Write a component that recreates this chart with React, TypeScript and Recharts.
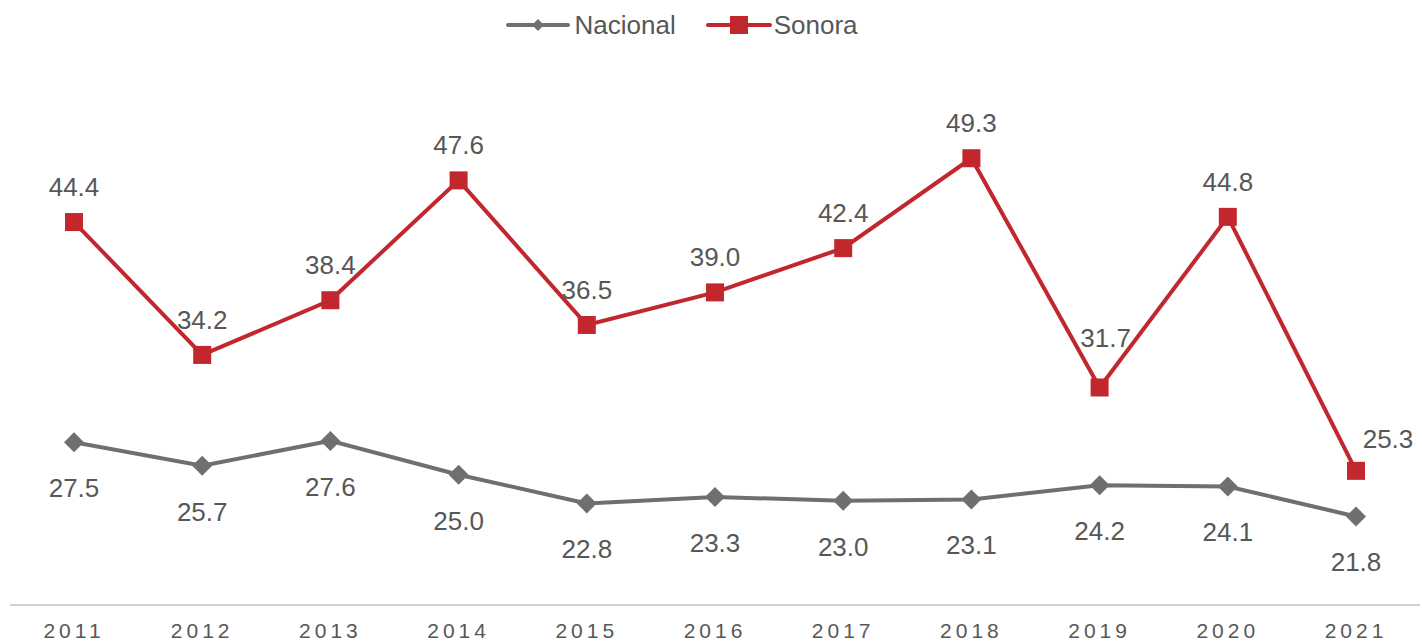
import { LineChart, Line, XAxis, YAxis, Legend } from 'recharts';

const years = ['2011', '2012', '2013', '2014', '2015', '2016', '2017', '2018', '2019', '2020', '2021'];
const nacional = [27.5, 25.7, 27.6, 25.0, 22.8, 23.3, 23.0, 23.1, 24.2, 24.1, 21.8];
const sonora = [44.4, 34.2, 38.4, 47.6, 36.5, 39.0, 42.4, 49.3, 31.7, 44.8, 25.3];

const GRAY = '#6d6f71';
const RED = '#c1272d';
const TEXT = '#575757';
const FONT = '"Liberation Sans", Arial, Helvetica, sans-serif';

const chartData = years.map((year, i) => ({
  year,
  nacional: nacional[i],
  sonora: sonora[i],
}));

function Diamond(props: any) {
  const { cx, cy, size = 10, fill } = props;
  if (cx == null || cy == null) return null;
  return <path d={`M${cx},${cy - size} L${cx + size},${cy} L${cx},${cy + size} L${cx - size},${cy} Z`} fill={fill} />;
}

function Square(props: any) {
  const { cx, cy, size = 9, fill } = props;
  if (cx == null || cy == null) return null;
  return <rect x={cx - size} y={cy - size} width={size * 2} height={size * 2} fill={fill} />;
}

function NacionalLabel(props: any) {
  const { x, y, value } = props;
  return (
    <text x={x} y={y + 55} textAnchor="middle" fill={TEXT} fontSize={26} fontFamily={FONT}>
      {Number(value).toFixed(1)}
    </text>
  );
}

function SonoraLabel(props: any) {
  const { x, y, value, index } = props;
  // a couple of labels sit off their default spot in the original
  let dx = 0;
  let dy = -26;
  if (index === 8) { dx = 6; dy = -40; }
  if (index === 10) { dx = 32; dy = -23; }
  return (
    <text x={x + dx} y={y + dy} textAnchor="middle" fill={TEXT} fontSize={26} fontFamily={FONT}>
      {Number(value).toFixed(1)}
    </text>
  );
}

function LegendContent() {
  return (
    <div style={{ display: 'flex', justifyContent: 'center', alignItems: 'center', height: 36, paddingRight: 66, fontFamily: FONT, fontSize: 26, color: TEXT }}>
      <svg width={64} height={24} style={{ marginRight: 4 }}>
        <line x1={2} y1={12} x2={62} y2={12} stroke={GRAY} strokeWidth={4} strokeLinecap="round" />
        <Diamond cx={32} cy={12} size={6} fill={GRAY} />
      </svg>
      <span style={{ marginRight: 30 }}>Nacional</span>
      <svg width={66} height={24} style={{ marginRight: 2 }}>
        <line x1={2} y1={12} x2={64} y2={12} stroke={RED} strokeWidth={4} strokeLinecap="round" />
        <Square cx={33} cy={12} size={9} fill={RED} />
      </svg>
      <span>Sonora</span>
    </div>
  );
}

export default function App() {
  return (
    <div style={{ position: 'absolute', top: 0, left: 0, width: 1422, height: 641, background: '#fff' }}>
      <LineChart width={1422} height={641} data={chartData} margin={{ top: 48, right: 2, bottom: 0, left: 10 }}>
        <Legend verticalAlign="top" align="center" content={<LegendContent />} wrapperStyle={{ top: 7 }} />
        <XAxis
          dataKey="year"
          padding={{ left: 64, right: 64 }}
          axisLine={{ stroke: '#d0d0d0', strokeWidth: 2 }}
          tickLine={false}
          tickSize={0}
          tickMargin={18}
          height={36}
          tick={{ fill: TEXT, fontSize: 21, fontFamily: FONT, letterSpacing: 4 }}
        />
        <YAxis hide domain={[15, 55]} />
        <Line
          dataKey="nacional"
          stroke={GRAY}
          strokeWidth={4}
          dot={<Diamond size={10} fill={GRAY} />}
          activeDot={false}
          label={<NacionalLabel />}
          isAnimationActive={false}
        />
        <Line
          dataKey="sonora"
          stroke={RED}
          strokeWidth={4}
          dot={<Square size={9} fill={RED} />}
          activeDot={false}
          label={<SonoraLabel />}
          isAnimationActive={false}
        />
      </LineChart>
    </div>
  );
}
